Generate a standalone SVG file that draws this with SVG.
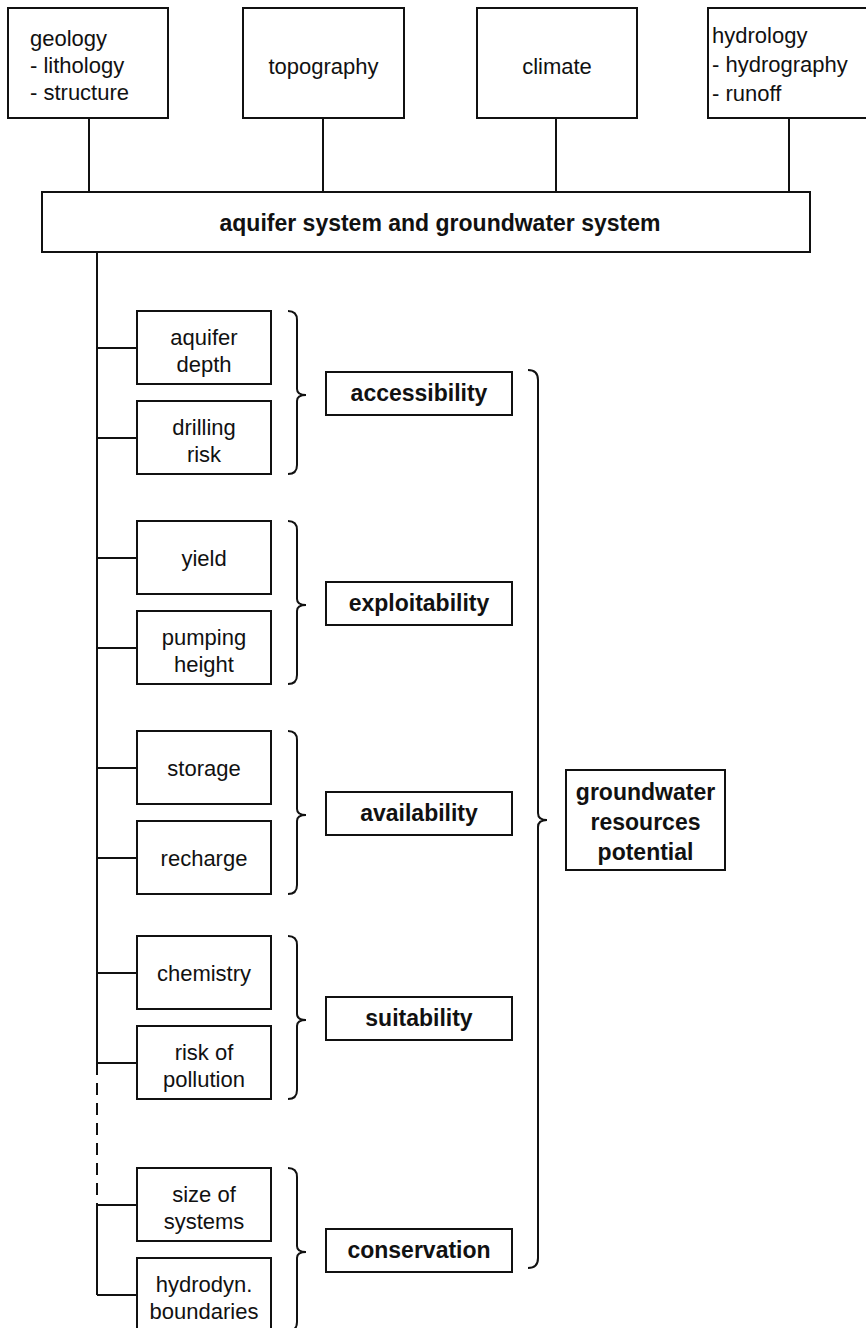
<svg xmlns="http://www.w3.org/2000/svg" width="866" height="1328" viewBox="0 0 866 1328">
<style>
rect{fill:#fff;stroke:#111;stroke-width:2}
.c{fill:none;stroke:#111;stroke-width:2}
.d{fill:none;stroke:#111;stroke-width:2;stroke-dasharray:12 8}
text{font-family:"Liberation Sans",Arial,sans-serif;fill:#111;font-size:22px}
.m{text-anchor:middle}
.b{font-weight:bold;font-size:23px}
</style>
<g id="connectors">
<path class="c" d="M89,118V192M323,118V192M556,118V192M789,118V192"/>
<path class="c" d="M97,252V1063M97,1205V1295"/>
<path class="d" d="M97,1063V1205"/>
<path class="c" d="M97,348H137M97,438H137M97,558H137M97,648H137M97,768H137M97,858H137M97,973H137M97,1063H137M97,1205H137M97,1295H137"/>
<path class="c" d="M288,311Q297,311 297,320L297,389Q297,395 306,395Q297,395 297,401L297,465Q297,474 288,474"/>
<path class="c" d="M288,521Q297,521 297,530L297,599Q297,605 306,605Q297,605 297,611L297,675Q297,684 288,684"/>
<path class="c" d="M288,731Q297,731 297,740L297,809Q297,815 306,815Q297,815 297,821L297,885Q297,894 288,894"/>
<path class="c" d="M288,936Q297,936 297,945L297,1014Q297,1020 306,1020Q297,1020 297,1026L297,1090Q297,1099 288,1099"/>
<path class="c" d="M288,1168Q297,1168 297,1177L297,1246Q297,1252 306,1252Q297,1252 297,1258L297,1322Q297,1331 288,1331"/>
<path class="c" d="M528,370Q538,370 538,380L538,813Q538,820 547,820Q538,820 538,827L538,1258Q538,1268 528,1268"/>
</g>
<g id="geology"><rect x="8" y="8" width="160" height="110"/><text x="30" y="46">geology</text><text x="30" y="73">- lithology</text><text x="30" y="100">- structure</text></g>
<g id="topography"><rect x="243" y="8" width="161" height="110"/><text class="m" x="323.5" y="74">topography</text></g>
<g id="climate"><rect x="477" y="8" width="160" height="110"/><text class="m" x="557" y="74">climate</text></g>
<g id="hydrology"><rect x="708" y="8" width="170" height="110"/><text x="712" y="43">hydrology</text><text x="712" y="72">- hydrography</text><text x="712" y="101">- runoff</text></g>
<g id="aquifer-system"><rect x="42" y="192" width="768" height="60"/><text class="m b" x="440" y="231">aquifer system and groundwater system</text></g>
<g id="aquifer-depth"><rect x="137" y="311" width="134" height="73"/><text class="m" x="204" y="345">aquifer</text><text class="m" x="204" y="372">depth</text></g>
<g id="drilling-risk"><rect x="137" y="401" width="134" height="73"/><text class="m" x="204" y="435">drilling</text><text class="m" x="204" y="462">risk</text></g>
<g id="accessibility"><rect x="326" y="372" width="186" height="43"/><text class="m b" x="419" y="401">accessibility</text></g>
<g id="yield"><rect x="137" y="521" width="134" height="73"/><text class="m" x="204" y="566">yield</text></g>
<g id="pumping-height"><rect x="137" y="611" width="134" height="73"/><text class="m" x="204" y="645">pumping</text><text class="m" x="204" y="672">height</text></g>
<g id="exploitability"><rect x="326" y="582" width="186" height="43"/><text class="m b" x="419" y="611">exploitability</text></g>
<g id="storage"><rect x="137" y="731" width="134" height="73"/><text class="m" x="204" y="776">storage</text></g>
<g id="recharge"><rect x="137" y="821" width="134" height="73"/><text class="m" x="204" y="866">recharge</text></g>
<g id="availability"><rect x="326" y="792" width="186" height="43"/><text class="m b" x="419" y="821">availability</text></g>
<g id="chemistry"><rect x="137" y="936" width="134" height="73"/><text class="m" x="204" y="981">chemistry</text></g>
<g id="risk-of-pollution"><rect x="137" y="1026" width="134" height="73"/><text class="m" x="204" y="1060">risk of</text><text class="m" x="204" y="1087">pollution</text></g>
<g id="suitability"><rect x="326" y="997" width="186" height="43"/><text class="m b" x="419" y="1026">suitability</text></g>
<g id="size-of-systems"><rect x="137" y="1168" width="134" height="73"/><text class="m" x="204" y="1202">size of</text><text class="m" x="204" y="1229">systems</text></g>
<g id="hydrodyn-boundaries"><rect x="137" y="1258" width="134" height="73"/><text class="m" x="204" y="1292">hydrodyn.</text><text class="m" x="204" y="1319">boundaries</text></g>
<g id="conservation"><rect x="326" y="1229" width="186" height="43"/><text class="m b" x="419" y="1258">conservation</text></g>
<g id="groundwater-resources-potential"><rect x="566" y="770" width="159" height="100"/><text class="m b" x="645.5" y="800">groundwater</text><text class="m b" x="645.5" y="830">resources</text><text class="m b" x="645.5" y="860">potential</text></g>
</svg>
